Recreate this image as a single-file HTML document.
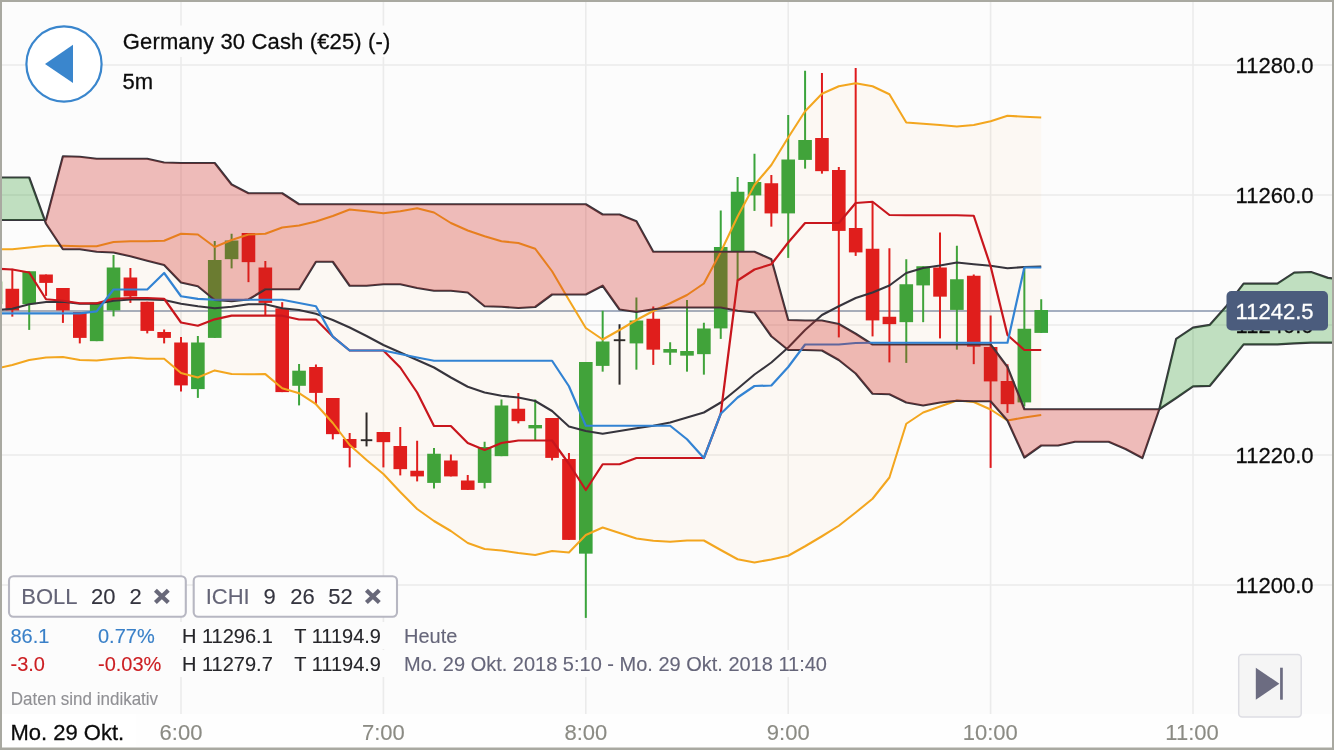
<!DOCTYPE html>
<html lang="de"><head><meta charset="utf-8"><title>Germany 30 Cash</title>
<style>
html,body{margin:0;padding:0;background:#fcfcfc;}
body{width:1334px;height:750px;overflow:hidden;position:relative;font-family:"Liberation Sans",sans-serif;}
svg{position:absolute;left:0;top:0;display:block;}
svg text{font-family:"Liberation Sans",sans-serif;}
</style></head><body>
<svg width="1334" height="750" viewBox="0 0 1334 750">
<rect x="0" y="0" width="1334" height="750" fill="#fcfcfc"/>
<g stroke="#ebebeb" stroke-width="1.6" fill="none">
<line x1="181" y1="0" x2="181" y2="714"/>
<line x1="383.4" y1="0" x2="383.4" y2="714"/>
<line x1="585.8" y1="0" x2="585.8" y2="714"/>
<line x1="788.2" y1="0" x2="788.2" y2="714"/>
<line x1="990.6" y1="0" x2="990.6" y2="714"/>
<line x1="1193" y1="0" x2="1193" y2="714"/>
<line x1="0" y1="65" x2="1334" y2="65"/>
<line x1="0" y1="195" x2="1334" y2="195"/>
<line x1="0" y1="325" x2="1334" y2="325"/>
<line x1="0" y1="455" x2="1334" y2="455"/>
<line x1="0" y1="585" x2="1334" y2="585"/>
</g>
<line x1="0" y1="311" x2="1230" y2="311" stroke="#a4aec0" stroke-width="2"/>
<g>
<line x1="-4.54" y1="281.5" x2="-4.54" y2="304.15" stroke="#3aa43c" stroke-width="2"/>
<rect x="-11.34" y="281.5" width="13.6" height="22.65" fill="#3aa43c"/>
<line x1="12.33" y1="268.75" x2="12.33" y2="316.65" stroke="#df191d" stroke-width="2"/>
<rect x="5.53" y="288.75" width="13.6" height="21.65" fill="#df191d"/>
<line x1="29.2" y1="271.25" x2="29.2" y2="329.9" stroke="#3aa43c" stroke-width="2"/>
<rect x="22.4" y="271.25" width="13.6" height="32.9" fill="#3aa43c"/>
<line x1="46.06" y1="274.5" x2="46.06" y2="295.9" stroke="#df191d" stroke-width="2"/>
<rect x="39.26" y="274.5" width="13.6" height="8.4" fill="#df191d"/>
<line x1="62.93" y1="288" x2="62.93" y2="322.9" stroke="#df191d" stroke-width="2"/>
<rect x="56.13" y="288" width="13.6" height="22.4" fill="#df191d"/>
<line x1="79.8" y1="312" x2="79.8" y2="343.4" stroke="#df191d" stroke-width="2"/>
<rect x="73" y="312" width="13.6" height="25.9" fill="#df191d"/>
<line x1="96.66" y1="302.5" x2="96.66" y2="341.15" stroke="#3aa43c" stroke-width="2"/>
<rect x="89.86" y="302.5" width="13.6" height="38.65" fill="#3aa43c"/>
<line x1="113.53" y1="255" x2="113.53" y2="316.4" stroke="#3aa43c" stroke-width="2"/>
<rect x="106.73" y="267.5" width="13.6" height="42.9" fill="#3aa43c"/>
<line x1="130.4" y1="268" x2="130.4" y2="302.9" stroke="#df191d" stroke-width="2"/>
<rect x="123.6" y="277.5" width="13.6" height="18.9" fill="#df191d"/>
<line x1="147.27" y1="301.75" x2="147.27" y2="333.4" stroke="#df191d" stroke-width="2"/>
<rect x="140.47" y="301.75" width="13.6" height="29.15" fill="#df191d"/>
<line x1="164.13" y1="329.5" x2="164.13" y2="343.4" stroke="#df191d" stroke-width="2"/>
<rect x="157.33" y="332" width="13.6" height="5.9" fill="#df191d"/>
<line x1="181" y1="337" x2="181" y2="391.4" stroke="#df191d" stroke-width="2"/>
<rect x="174.2" y="342.5" width="13.6" height="42.9" fill="#df191d"/>
<line x1="197.87" y1="336" x2="197.87" y2="397.9" stroke="#3aa43c" stroke-width="2"/>
<rect x="191.07" y="342.5" width="13.6" height="46.6" fill="#3aa43c"/>
<line x1="214.73" y1="241" x2="214.73" y2="337.9" stroke="#3aa43c" stroke-width="2"/>
<rect x="207.93" y="260" width="13.6" height="77.9" fill="#3aa43c"/>
<line x1="231.6" y1="233.75" x2="231.6" y2="268.4" stroke="#3aa43c" stroke-width="2"/>
<rect x="224.8" y="240.5" width="13.6" height="18.65" fill="#3aa43c"/>
<line x1="248.47" y1="233" x2="248.47" y2="282.15" stroke="#df191d" stroke-width="2"/>
<rect x="241.67" y="233" width="13.6" height="29.15" fill="#df191d"/>
<line x1="265.34" y1="261" x2="265.34" y2="315.4" stroke="#df191d" stroke-width="2"/>
<rect x="258.54" y="267.5" width="13.6" height="35.4" fill="#df191d"/>
<line x1="282.2" y1="302.2" x2="282.2" y2="392.1" stroke="#df191d" stroke-width="2"/>
<rect x="275.4" y="308.3" width="13.6" height="83.8" fill="#df191d"/>
<line x1="299.07" y1="364" x2="299.07" y2="405.4" stroke="#3aa43c" stroke-width="2"/>
<rect x="292.27" y="370.7" width="13.6" height="15.1" fill="#3aa43c"/>
<line x1="315.94" y1="364.5" x2="315.94" y2="404.4" stroke="#df191d" stroke-width="2"/>
<rect x="309.14" y="367" width="13.6" height="25.9" fill="#df191d"/>
<line x1="332.8" y1="398" x2="332.8" y2="439.4" stroke="#df191d" stroke-width="2"/>
<rect x="326" y="398" width="13.6" height="36.15" fill="#df191d"/>
<line x1="349.67" y1="433" x2="349.67" y2="467.4" stroke="#df191d" stroke-width="2"/>
<rect x="342.87" y="439" width="13.6" height="8.9" fill="#df191d"/>
<line x1="366.54" y1="412.5" x2="366.54" y2="446.4" stroke="#26262a" stroke-width="2"/>
<rect x="360.79" y="439.25" width="11.5" height="1.9" fill="#26262a"/>
<line x1="383.4" y1="432" x2="383.4" y2="467.4" stroke="#df191d" stroke-width="2"/>
<rect x="376.6" y="432" width="13.6" height="10.15" fill="#df191d"/>
<line x1="400.27" y1="427" x2="400.27" y2="475.4" stroke="#df191d" stroke-width="2"/>
<rect x="393.47" y="446" width="13.6" height="23.15" fill="#df191d"/>
<line x1="417.14" y1="440.75" x2="417.14" y2="481.4" stroke="#df191d" stroke-width="2"/>
<rect x="410.34" y="470.75" width="13.6" height="5.65" fill="#df191d"/>
<line x1="434" y1="448" x2="434" y2="488.4" stroke="#3aa43c" stroke-width="2"/>
<rect x="427.2" y="453.75" width="13.6" height="29.15" fill="#3aa43c"/>
<line x1="450.87" y1="454.5" x2="450.87" y2="476.4" stroke="#df191d" stroke-width="2"/>
<rect x="444.07" y="460.5" width="13.6" height="15.9" fill="#df191d"/>
<line x1="467.74" y1="475" x2="467.74" y2="489.9" stroke="#df191d" stroke-width="2"/>
<rect x="460.94" y="480.5" width="13.6" height="9.4" fill="#df191d"/>
<line x1="484.61" y1="441.75" x2="484.61" y2="488.4" stroke="#3aa43c" stroke-width="2"/>
<rect x="477.81" y="447" width="13.6" height="35.9" fill="#3aa43c"/>
<line x1="501.47" y1="399.5" x2="501.47" y2="456.15" stroke="#3aa43c" stroke-width="2"/>
<rect x="494.67" y="405.5" width="13.6" height="50.65" fill="#3aa43c"/>
<line x1="518.34" y1="393" x2="518.34" y2="423.4" stroke="#df191d" stroke-width="2"/>
<rect x="511.54" y="408.75" width="13.6" height="12.4" fill="#df191d"/>
<line x1="535.21" y1="399.5" x2="535.21" y2="440.4" stroke="#3aa43c" stroke-width="2"/>
<rect x="528.41" y="425" width="13.6" height="3.4" fill="#3aa43c"/>
<line x1="552.07" y1="418" x2="552.07" y2="460.4" stroke="#df191d" stroke-width="2"/>
<rect x="545.27" y="418" width="13.6" height="39.9" fill="#df191d"/>
<line x1="568.94" y1="453" x2="568.94" y2="539.9" stroke="#df191d" stroke-width="2"/>
<rect x="562.14" y="459" width="13.6" height="80.9" fill="#df191d"/>
<line x1="585.81" y1="362" x2="585.81" y2="617.9" stroke="#3aa43c" stroke-width="2"/>
<rect x="579.01" y="362" width="13.6" height="191.65" fill="#3aa43c"/>
<line x1="602.67" y1="310.75" x2="602.67" y2="371.65" stroke="#3aa43c" stroke-width="2"/>
<rect x="595.88" y="341.5" width="13.6" height="24.4" fill="#3aa43c"/>
<line x1="619.54" y1="324.25" x2="619.54" y2="384.65" stroke="#26262a" stroke-width="2"/>
<rect x="613.79" y="339.25" width="11.5" height="1.9" fill="#26262a"/>
<line x1="636.41" y1="297.5" x2="636.41" y2="369.65" stroke="#3aa43c" stroke-width="2"/>
<rect x="629.61" y="320.5" width="13.6" height="22.9" fill="#3aa43c"/>
<line x1="653.28" y1="306.5" x2="653.28" y2="364.9" stroke="#df191d" stroke-width="2"/>
<rect x="646.48" y="318.75" width="13.6" height="30.9" fill="#df191d"/>
<line x1="670.14" y1="342.25" x2="670.14" y2="364.9" stroke="#3aa43c" stroke-width="2"/>
<rect x="663.34" y="349" width="13.6" height="3.65" fill="#3aa43c"/>
<line x1="687.01" y1="300" x2="687.01" y2="371.65" stroke="#3aa43c" stroke-width="2"/>
<rect x="680.21" y="351" width="13.6" height="4.65" fill="#3aa43c"/>
<line x1="703.88" y1="322.75" x2="703.88" y2="374.65" stroke="#3aa43c" stroke-width="2"/>
<rect x="697.08" y="328.5" width="13.6" height="25.65" fill="#3aa43c"/>
<line x1="720.74" y1="210.5" x2="720.74" y2="338.9" stroke="#3aa43c" stroke-width="2"/>
<rect x="713.94" y="247" width="13.6" height="81.4" fill="#3aa43c"/>
<line x1="737.61" y1="177" x2="737.61" y2="280.4" stroke="#3aa43c" stroke-width="2"/>
<rect x="730.81" y="191.75" width="13.6" height="59.9" fill="#3aa43c"/>
<line x1="754.48" y1="153.75" x2="754.48" y2="210.9" stroke="#3aa43c" stroke-width="2"/>
<rect x="747.68" y="182" width="13.6" height="13.4" fill="#3aa43c"/>
<line x1="771.35" y1="175" x2="771.35" y2="226.65" stroke="#df191d" stroke-width="2"/>
<rect x="764.55" y="183.25" width="13.6" height="30.15" fill="#df191d"/>
<line x1="788.21" y1="115" x2="788.21" y2="257.9" stroke="#3aa43c" stroke-width="2"/>
<rect x="781.41" y="159.5" width="13.6" height="53.9" fill="#3aa43c"/>
<line x1="805.08" y1="70.75" x2="805.08" y2="168.65" stroke="#3aa43c" stroke-width="2"/>
<rect x="798.28" y="140" width="13.6" height="19.9" fill="#3aa43c"/>
<line x1="821.95" y1="73" x2="821.95" y2="173.65" stroke="#df191d" stroke-width="2"/>
<rect x="815.15" y="138" width="13.6" height="33.15" fill="#df191d"/>
<line x1="838.81" y1="167" x2="838.81" y2="337.4" stroke="#df191d" stroke-width="2"/>
<rect x="832.01" y="170" width="13.6" height="60.9" fill="#df191d"/>
<line x1="855.68" y1="68" x2="855.68" y2="255.9" stroke="#df191d" stroke-width="2"/>
<rect x="848.88" y="228" width="13.6" height="24.4" fill="#df191d"/>
<line x1="872.55" y1="202.5" x2="872.55" y2="336.4" stroke="#df191d" stroke-width="2"/>
<rect x="865.75" y="248.75" width="13.6" height="71.65" fill="#df191d"/>
<line x1="889.41" y1="248.25" x2="889.41" y2="362.4" stroke="#df191d" stroke-width="2"/>
<rect x="882.61" y="316.75" width="13.6" height="7.4" fill="#df191d"/>
<line x1="906.28" y1="259.25" x2="906.28" y2="362.9" stroke="#3aa43c" stroke-width="2"/>
<rect x="899.48" y="284.25" width="13.6" height="37.9" fill="#3aa43c"/>
<line x1="923.15" y1="266.25" x2="923.15" y2="322.15" stroke="#3aa43c" stroke-width="2"/>
<rect x="916.35" y="266.25" width="13.6" height="19.15" fill="#3aa43c"/>
<line x1="940.01" y1="232.5" x2="940.01" y2="338.4" stroke="#df191d" stroke-width="2"/>
<rect x="933.22" y="267.5" width="13.6" height="29.15" fill="#df191d"/>
<line x1="956.88" y1="245.75" x2="956.88" y2="349.65" stroke="#3aa43c" stroke-width="2"/>
<rect x="950.08" y="279.25" width="13.6" height="30.65" fill="#3aa43c"/>
<line x1="973.75" y1="274.5" x2="973.75" y2="364.15" stroke="#df191d" stroke-width="2"/>
<rect x="966.95" y="275.75" width="13.6" height="70.9" fill="#df191d"/>
<line x1="990.62" y1="315.5" x2="990.62" y2="467.9" stroke="#df191d" stroke-width="2"/>
<rect x="983.82" y="347" width="13.6" height="34.4" fill="#df191d"/>
<line x1="1007.48" y1="364.25" x2="1007.48" y2="412.9" stroke="#df191d" stroke-width="2"/>
<rect x="1000.68" y="381" width="13.6" height="23.15" fill="#df191d"/>
<line x1="1024.35" y1="267.5" x2="1024.35" y2="406.4" stroke="#3aa43c" stroke-width="2"/>
<rect x="1017.55" y="328.75" width="13.6" height="73.65" fill="#3aa43c"/>
<line x1="1041.22" y1="299.25" x2="1041.22" y2="332.9" stroke="#3aa43c" stroke-width="2"/>
<rect x="1034.42" y="310" width="13.6" height="22.9" fill="#3aa43c"/>
</g>
<polygon points="-4.54,249.25 12.33,249.25 29.2,247.5 46.06,245.75 62.93,245.75 79.8,246.25 96.66,246.25 113.53,242 130.4,241.25 147.27,241.25 164.13,240.75 181,233.75 197.87,234.5 214.73,247 231.6,240 248.47,234.5 265.34,233.75 282.2,227.5 299.07,225.5 315.94,221.5 332.8,216 349.67,209.5 366.54,211.25 383.4,213.25 400.27,211.25 417.14,208.25 434,212.5 450.87,223 467.74,230.5 484.61,236.25 501.47,241.25 518.34,243 535.21,248.75 552.07,271.25 568.94,300 585.81,328 602.67,339.5 619.54,330 636.41,320 653.28,311 670.14,303.25 687.01,295 703.88,283.5 720.74,252 737.61,216.5 754.48,185 771.35,165 788.21,137.5 805.08,111.25 821.95,93.75 838.81,86.25 855.68,83.25 872.55,86.25 889.41,94.25 906.28,122.5 923.15,123.75 940.01,125 956.88,126.5 973.75,125 990.62,121.25 1007.48,115.75 1024.35,116.75 1041.22,117.5 1041.22,415 1024.35,417.5 1007.48,420.5 990.62,409.5 973.75,402 956.88,400.5 940.01,406.5 923.15,412.5 906.28,423.75 889.41,477.5 872.55,498.75 855.68,512.5 838.81,525.75 821.95,536.25 805.08,546.25 788.21,555.75 771.35,559.5 754.48,562.5 737.61,559.25 720.74,550 703.88,540.5 687.01,540.5 670.14,541.75 653.28,540.75 636.41,538.5 619.54,533 602.67,527.5 585.81,535 568.94,552.5 552.07,551 535.21,555 518.34,553 501.47,550.5 484.61,549 467.74,543 450.87,531 434,521 417.14,509 400.27,492 383.4,474 366.54,460 349.67,445 332.8,423 315.94,404.2 299.07,393.2 282.2,388.2 265.34,374.1 248.47,374.25 231.6,374 214.73,370.4 197.87,377.5 181,373 164.13,358.75 147.27,358.75 130.4,357.5 113.53,358.75 96.66,360.5 79.8,360 62.93,357 46.06,357.5 29.2,360 12.33,365 -4.54,368.75" fill="rgba(243,160,20,0.04)" stroke="none"/>
<g fill="none" stroke-width="2.05" stroke-linejoin="round" stroke-linecap="butt">
<polyline points="-4.54,249.25 12.33,249.25 29.2,247.5 46.06,245.75 62.93,245.75 79.8,246.25 96.66,246.25 113.53,242 130.4,241.25 147.27,241.25 164.13,240.75 181,233.75 197.87,234.5 214.73,247 231.6,240 248.47,234.5 265.34,233.75 282.2,227.5 299.07,225.5 315.94,221.5 332.8,216 349.67,209.5 366.54,211.25 383.4,213.25 400.27,211.25 417.14,208.25 434,212.5 450.87,223 467.74,230.5 484.61,236.25 501.47,241.25 518.34,243 535.21,248.75 552.07,271.25 568.94,300 585.81,328 602.67,339.5 619.54,330 636.41,320 653.28,311 670.14,303.25 687.01,295 703.88,283.5 720.74,252 737.61,216.5 754.48,185 771.35,165 788.21,137.5 805.08,111.25 821.95,93.75 838.81,86.25 855.68,83.25 872.55,86.25 889.41,94.25 906.28,122.5 923.15,123.75 940.01,125 956.88,126.5 973.75,125 990.62,121.25 1007.48,115.75 1024.35,116.75 1041.22,117.5" stroke="#f3a61f"/>
<polyline points="-4.54,368.75 12.33,365 29.2,360 46.06,357.5 62.93,357 79.8,360 96.66,360.5 113.53,358.75 130.4,357.5 147.27,358.75 164.13,358.75 181,373 197.87,377.5 214.73,370.4 231.6,374 248.47,374.25 265.34,374.1 282.2,388.2 299.07,393.2 315.94,404.2 332.8,423 349.67,445 366.54,460 383.4,474 400.27,492 417.14,509 434,521 450.87,531 467.74,543 484.61,549 501.47,550.5 518.34,553 535.21,555 552.07,551 568.94,552.5 585.81,535 602.67,527.5 619.54,533 636.41,538.5 653.28,540.75 670.14,541.75 687.01,540.5 703.88,540.5 720.74,550 737.61,559.25 754.48,562.5 771.35,559.5 788.21,555.75 805.08,546.25 821.95,536.25 838.81,525.75 855.68,512.5 872.55,498.75 889.41,477.5 906.28,423.75 923.15,412.5 940.01,406.5 956.88,400.5 973.75,402 990.62,409.5 1007.48,420.5 1024.35,417.5 1041.22,415" stroke="#f3a61f"/>
<polyline points="-4.54,310 12.33,308.75 29.2,304.25 46.06,302 62.93,301.75 79.8,303.75 96.66,303.75 113.53,300.75 130.4,299.5 147.27,299.5 164.13,300 181,303.75 197.87,306.25 214.73,308.25 231.6,306.75 248.47,304.25 265.34,304.25 282.2,308.25 299.07,310 315.94,313.75 332.8,320 349.67,327.5 366.54,336 383.4,345 400.27,352.5 417.14,360 434,367.5 450.87,377.5 467.74,386.75 484.61,392.5 501.47,395.75 518.34,397.5 535.21,401 552.07,411 568.94,426.5 585.81,431 602.67,433.75 619.54,431 636.41,428.25 653.28,425.75 670.14,422.5 687.01,417.5 703.88,412.5 720.74,402.5 737.61,388.75 754.48,374.5 771.35,362.5 788.21,347.5 805.08,330 821.95,315 838.81,306.25 855.68,298 872.55,292.5 889.41,285.5 906.28,273 923.15,268 940.01,265.5 956.88,262.5 973.75,264.25 990.62,265.75 1007.48,268.25 1024.35,267 1041.22,266.5" stroke="#36343c"/>
</g>
<g fill="none" stroke-width="2.2" stroke-linejoin="round">
<polyline points="-4.54,177.5 12.33,177.5 29.2,177.5 46.06,223.75 62.93,249.25 79.8,249.25 96.66,251.75 113.53,252.5 130.4,256.25 147.27,260.75 164.13,265 181,282.5 197.87,286.25 214.73,300 231.6,301.25 248.47,299.5 265.34,289.25 282.2,289.25 299.07,289.25 315.94,261.75 332.8,261.75 349.67,285.75 366.54,285.75 383.4,284.25 400.27,284.25 417.14,288 434,290.75 450.87,290.75 467.74,292.5 484.61,306.25 501.47,306.75 518.34,308 535.21,307 552.07,294.5 568.94,294.5 585.81,294.5 602.67,285.75 619.54,309.5 636.41,312 653.28,309.25 670.14,307.5 687.01,307.5 703.88,307.5 720.74,307.5 737.61,310.75 754.48,312.5 771.35,336.25 788.21,350 805.08,350 821.95,350.5 838.81,360 855.68,373.5 872.55,393.75 889.41,394.25 906.28,402.5 923.15,405.5 940.01,402.5 956.88,400.75 973.75,401.25 990.62,401.25 1007.48,420.5 1024.35,457.5 1041.22,445.5 1058.08,445.5 1074.95,441.75 1091.82,441.75 1108.68,441.75 1125.55,449 1142.42,458 1159.29,409.25 1176.15,338.9 1193.02,327.7 1209.89,324.8 1226.75,305.7 1243.62,283.7 1260.49,283.7 1277.36,283.7 1294.22,272.6 1311.09,272 1327.96,277.9 1344.82,280 1361.69,280" stroke="#36343c"/>
<polyline points="-4.54,220 12.33,220 29.2,220 46.06,220 62.93,156.25 79.8,156.75 96.66,158.75 113.53,158.75 130.4,158.75 147.27,158.75 164.13,162.5 181,163 197.87,163 214.73,163 231.6,184.5 248.47,193.25 265.34,193.25 282.2,193.25 299.07,204.25 315.94,204.25 332.8,204.25 349.67,204.25 366.54,204.25 383.4,204.25 400.27,204.25 417.14,204.25 434,204.25 450.87,204.25 467.74,204.25 484.61,204.25 501.47,204.25 518.34,204.25 535.21,204.25 552.07,204.25 568.94,204.25 585.81,204.25 602.67,214.5 619.54,214.5 636.41,221.25 653.28,251.75 670.14,251.75 687.01,251.75 703.88,251.75 720.74,251.75 737.61,251.75 754.48,251.75 771.35,259.25 788.21,320 805.08,320.5 821.95,320.5 838.81,324 855.68,333.75 872.55,344.5 889.41,344.5 906.28,344.5 923.15,344.5 940.01,344.5 956.88,344.5 973.75,344.5 990.62,344.5 1007.48,367 1024.35,409.25 1041.22,409.25 1058.08,409.25 1074.95,409.25 1091.82,409.25 1108.68,409.25 1125.55,409.25 1142.42,409.25 1159.29,409.25 1176.15,398 1193.02,386.4 1209.89,385.8 1226.75,365.2 1243.62,344.4 1260.49,344.4 1277.36,344.4 1294.22,343.3 1311.09,342.7 1327.96,342.7 1344.82,342.7 1361.69,342.7" stroke="#36343c"/>
<polyline points="-4.54,268.75 12.33,269.5 29.2,272.5 46.06,299.25 62.93,300.75 79.8,303.25 96.66,303.25 113.53,298.75 130.4,298 147.27,298 164.13,298.75 181,322.5 197.87,325.75 214.73,319.3 231.6,315.7 248.47,315.7 265.34,315.7 282.2,315.7 299.07,319.5 315.94,319.6 332.8,336.6 349.67,350.5 366.54,350.5 383.4,350.5 400.27,367.5 417.14,392.5 434,426 450.87,426 467.74,443 484.61,450 501.47,443 518.34,440.5 535.21,440.5 552.07,440.5 568.94,463.75 585.81,490 602.67,464.25 619.54,464.25 636.41,458 653.28,458 670.14,458 687.01,458 703.88,458 720.74,413.75 737.61,280.5 754.48,269.5 771.35,264.25 788.21,242.5 805.08,223 821.95,223 838.81,223 855.68,203 872.55,201.75 889.41,215 906.28,215.25 923.15,215.25 940.01,215.25 956.88,215.25 973.75,215.75 990.62,266.25 1007.48,335 1024.35,350 1041.22,350" stroke="#c8161d"/>
<polyline points="-4.54,313.4 12.33,313.4 29.2,313.4 46.06,313.4 62.93,313.4 79.8,313.4 96.66,311.3 113.53,289.5 130.4,289.5 147.27,289.5 164.13,273 181,296.25 197.87,298.9 214.73,299.75 231.6,299.75 248.47,299.75 265.34,299.75 282.2,299.75 299.07,303 315.94,306.25 332.8,336.6 349.67,350.5 366.54,350.5 383.4,350.5 400.27,354 417.14,357.5 434,360.75 450.87,360.75 467.74,360.75 484.61,360.75 501.47,360.75 518.34,360.75 535.21,360.75 552.07,360.75 568.94,386.25 585.81,425.75 602.67,425.75 619.54,425.75 636.41,425.75 653.28,425.75 670.14,425.75 687.01,439.25 703.88,458 720.74,413.75 737.61,397.5 754.48,386 771.35,385.5 788.21,367 805.08,344.5 821.95,344.5 838.81,344.5 855.68,343 872.55,342.75 889.41,342.75 906.28,342.75 923.15,342.75 940.01,342.75 956.88,342.75 973.75,342.75 990.62,342.75 1007.48,342.75 1024.35,267.5 1041.22,267.5" stroke="#3283d3"/>
</g>
<polygon points="-4.54,177.5 12.33,177.5 29.2,177.5 44.7,220 44.7,220 29.2,220 12.33,220 -4.54,220" fill="rgba(44,150,44,0.29)" stroke="none"/>
<polygon points="44.7,220 46.06,223.75 62.93,249.25 79.8,249.25 96.66,251.75 113.53,252.5 130.4,256.25 147.27,260.75 164.13,265 181,282.5 197.87,286.25 214.73,300 231.6,301.25 248.47,299.5 265.34,289.25 282.2,289.25 299.07,289.25 315.94,261.75 332.8,261.75 349.67,285.75 366.54,285.75 383.4,284.25 400.27,284.25 417.14,288 434,290.75 450.87,290.75 467.74,292.5 484.61,306.25 501.47,306.75 518.34,308 535.21,307 552.07,294.5 568.94,294.5 585.81,294.5 602.67,285.75 619.54,309.5 636.41,312 653.28,309.25 670.14,307.5 687.01,307.5 703.88,307.5 720.74,307.5 737.61,310.75 754.48,312.5 771.35,336.25 788.21,350 805.08,350 821.95,350.5 838.81,360 855.68,373.5 872.55,393.75 889.41,394.25 906.28,402.5 923.15,405.5 940.01,402.5 956.88,400.75 973.75,401.25 990.62,401.25 1007.48,420.5 1024.35,457.5 1041.22,445.5 1058.08,445.5 1074.95,441.75 1091.82,441.75 1108.68,441.75 1125.55,449 1142.42,458 1159.29,409.25 1159.29,409.25 1142.42,409.25 1125.55,409.25 1108.68,409.25 1091.82,409.25 1074.95,409.25 1058.08,409.25 1041.22,409.25 1024.35,409.25 1007.48,367 990.62,344.5 973.75,344.5 956.88,344.5 940.01,344.5 923.15,344.5 906.28,344.5 889.41,344.5 872.55,344.5 855.68,333.75 838.81,324 821.95,320.5 805.08,320.5 788.21,320 771.35,259.25 754.48,251.75 737.61,251.75 720.74,251.75 703.88,251.75 687.01,251.75 670.14,251.75 653.28,251.75 636.41,221.25 619.54,214.5 602.67,214.5 585.81,204.25 568.94,204.25 552.07,204.25 535.21,204.25 518.34,204.25 501.47,204.25 484.61,204.25 467.74,204.25 450.87,204.25 434,204.25 417.14,204.25 400.27,204.25 383.4,204.25 366.54,204.25 349.67,204.25 332.8,204.25 315.94,204.25 299.07,204.25 282.2,193.25 265.34,193.25 248.47,193.25 231.6,184.5 214.73,163 197.87,163 181,163 164.13,162.5 147.27,158.75 130.4,158.75 113.53,158.75 96.66,158.75 79.8,156.75 62.93,156.25 46.06,220 44.7,220" fill="rgba(205,35,30,0.30)" stroke="none"/>
<polygon points="1159.29,409.25 1176.15,338.9 1193.02,327.7 1209.89,324.8 1226.75,305.7 1243.62,283.7 1260.49,283.7 1277.36,283.7 1294.22,272.6 1311.09,272 1327.96,277.9 1344.82,280 1361.69,280 1361.69,342.7 1344.82,342.7 1327.96,342.7 1311.09,342.7 1294.22,343.3 1277.36,344.4 1260.49,344.4 1243.62,344.4 1226.75,365.2 1209.89,385.8 1193.02,386.4 1176.15,398 1159.29,409.25" fill="rgba(44,150,44,0.29)" stroke="none"/>
<rect x="0" y="714" width="1334" height="36" fill="#fefefe"/>
<text transform="translate(1313.5 73.3) scale(1 1.04)" font-size="22" fill="#0c0c0c" stroke="#0c0c0c" stroke-width="0.28" text-anchor="end">11280.0</text>
<text transform="translate(1313.5 203.3) scale(1 1.04)" font-size="22" fill="#0c0c0c" stroke="#0c0c0c" stroke-width="0.28" text-anchor="end">11260.0</text>
<text transform="translate(1313.5 333.3) scale(1 1.04)" font-size="22" fill="#0c0c0c" stroke="#0c0c0c" stroke-width="0.28" text-anchor="end">11240.0</text>
<text transform="translate(1313.5 463.3) scale(1 1.04)" font-size="22" fill="#0c0c0c" stroke="#0c0c0c" stroke-width="0.28" text-anchor="end">11220.0</text>
<text transform="translate(1313.5 593.3) scale(1 1.04)" font-size="22" fill="#0c0c0c" stroke="#0c0c0c" stroke-width="0.28" text-anchor="end">11200.0</text>
<rect x="1226.5" y="291" width="101.5" height="39.5" rx="5" ry="5" fill="#4b5c7d"/>
<text transform="translate(1313.5 319) scale(1 1.04)" font-size="22" fill="#ffffff" stroke="#ffffff" stroke-width="0.28" text-anchor="end">11242.5</text>
<text transform="translate(181 739.5) scale(1 1.04)" font-size="22" fill="#8b8b84" stroke="#8b8b84" stroke-width="0.12" text-anchor="middle">6:00</text>
<text transform="translate(383.4 739.5) scale(1 1.04)" font-size="22" fill="#8b8b84" stroke="#8b8b84" stroke-width="0.12" text-anchor="middle">7:00</text>
<text transform="translate(585.8 739.5) scale(1 1.04)" font-size="22" fill="#8b8b84" stroke="#8b8b84" stroke-width="0.12" text-anchor="middle">8:00</text>
<text transform="translate(788.2 739.5) scale(1 1.04)" font-size="22" fill="#8b8b84" stroke="#8b8b84" stroke-width="0.12" text-anchor="middle">9:00</text>
<text transform="translate(990.2 739.5) scale(1 1.04)" font-size="22" fill="#8b8b84" stroke="#8b8b84" stroke-width="0.12" text-anchor="middle">10:00</text>
<text transform="translate(1192 739.5) scale(1 1.04)" font-size="22" fill="#8b8b84" stroke="#8b8b84" stroke-width="0.12" text-anchor="middle">11:00</text>
<rect x="2" y="714" width="134" height="34" fill="#ffffff"/>
<text transform="translate(10.5 739.5) scale(1 1.04)" font-size="22" fill="#0c0c0c" stroke="#0c0c0c" stroke-width="0.28">Mo. 29 Okt.</text>
<circle cx="64" cy="64" r="37.6" fill="#ffffff" stroke="#3a86cd" stroke-width="2.2"/>
<polygon points="45,64 73,44.7 73,83" fill="#3a86cd"/>
<rect x="121" y="25.5" width="272" height="31.5" fill="#fcfcfc"/>
<text transform="translate(122.8 49) scale(1 1.04)" font-size="22" fill="#0c0c0c" stroke="#0c0c0c" stroke-width="0.28" textLength="267.5" lengthAdjust="spacing">Germany 30 Cash (€25) (-)</text>
<text transform="translate(122.5 88.5) scale(1 1.04)" font-size="22" fill="#0c0c0c" stroke="#0c0c0c" stroke-width="0.28">5m</text>
<g fill="#fdfdfd" stroke="#b7b7c2" stroke-width="2.1">
<rect x="9" y="576.2" width="176.8" height="40.6" rx="4.5" ry="4.5"/>
<rect x="193.7" y="576.2" width="203.3" height="40.6" rx="4.5" ry="4.5"/>
</g>
<text transform="translate(21.3 604) scale(1 1.04)" font-size="22" fill="#646477" stroke="#646477" stroke-width="0.12">BOLL</text>
<text transform="translate(91 604) scale(1 1.04)" font-size="22" fill="#34343f" stroke="#34343f" stroke-width="0.12">20</text>
<text transform="translate(129.4 604) scale(1 1.04)" font-size="22" fill="#34343f" stroke="#34343f" stroke-width="0.12">2</text>
<text transform="translate(205.7 604) scale(1 1.04)" font-size="22" fill="#646477" stroke="#646477" stroke-width="0.12">ICHI</text>
<text transform="translate(263.5 604) scale(1 1.04)" font-size="22" fill="#34343f" stroke="#34343f" stroke-width="0.12">9</text>
<text transform="translate(290.2 604) scale(1 1.04)" font-size="22" fill="#34343f" stroke="#34343f" stroke-width="0.12">26</text>
<text transform="translate(328.3 604) scale(1 1.04)" font-size="22" fill="#34343f" stroke="#34343f" stroke-width="0.12">52</text>
<g stroke="#686879" stroke-width="4.2" stroke-linecap="butt"><line x1="155.4" y1="590.3" x2="168.3" y2="602.6"/><line x1="155.4" y1="602.6" x2="168.3" y2="590.3"/></g>
<g stroke="#686879" stroke-width="4.2" stroke-linecap="butt"><line x1="366.4" y1="590.3" x2="379.3" y2="602.6"/><line x1="366.4" y1="602.6" x2="379.3" y2="590.3"/></g>
<g fill="#fcfcfc">
<rect x="9" y="622" width="452" height="27"/>
<rect x="9" y="650" width="822" height="27"/>
</g>
<text transform="translate(10.5 642.5) scale(1 1.04)" font-size="20" fill="#3a80c8" stroke="#3a80c8" stroke-width="0.12">86.1</text>
<text transform="translate(98 642.5) scale(1 1.04)" font-size="20" fill="#3a80c8" stroke="#3a80c8" stroke-width="0.12">0.77%</text>
<text transform="translate(182 642.5) scale(1 1.04)" font-size="20" fill="#26262a" stroke="#26262a" stroke-width="0.12">H 11296.1</text>
<text transform="translate(294.3 642.5) scale(1 1.04)" font-size="20" fill="#26262a" stroke="#26262a" stroke-width="0.12">T 11194.9</text>
<text transform="translate(404 642.5) scale(1 1.04)" font-size="20" fill="#66667a" stroke="#66667a" stroke-width="0.12">Heute</text>
<text transform="translate(10.5 670.8) scale(1 1.04)" font-size="20" fill="#cc1e22" stroke="#cc1e22" stroke-width="0.12">-3.0</text>
<text transform="translate(98 670.8) scale(1 1.04)" font-size="20" fill="#cc1e22" stroke="#cc1e22" stroke-width="0.12">-0.03%</text>
<text transform="translate(182 670.8) scale(1 1.04)" font-size="20" fill="#26262a" stroke="#26262a" stroke-width="0.12">H 11279.7</text>
<text transform="translate(294.3 670.8) scale(1 1.04)" font-size="20" fill="#26262a" stroke="#26262a" stroke-width="0.12">T 11194.9</text>
<text transform="translate(404 670.8) scale(1 1.04)" font-size="20" fill="#66667a" stroke="#66667a" stroke-width="0.12">Mo. 29 Okt. 2018 5:10 - Mo. 29 Okt. 2018 11:40</text>
<text transform="translate(10.8 705) scale(1 1.04)" font-size="17" fill="#909094" stroke="#909094" stroke-width="0.12">Daten sind indikativ</text>
<rect x="1238.7" y="654.5" width="62.5" height="62.5" rx="3.5" ry="3.5" fill="#f5f5f5" stroke="#dddde3" stroke-width="1.5"/>
<polygon points="1255.8,667.7 1279.4,683.7 1255.8,699.7" fill="#6c6c81"/>
<rect x="1280.1" y="667.7" width="2.7" height="32" fill="#6c6c81"/>
<path d="M0 0H1334V750H0Z M2 2V747.5H1332V2Z" fill="#a9a9a1" fill-rule="evenodd"/>
</svg>
</body></html>
